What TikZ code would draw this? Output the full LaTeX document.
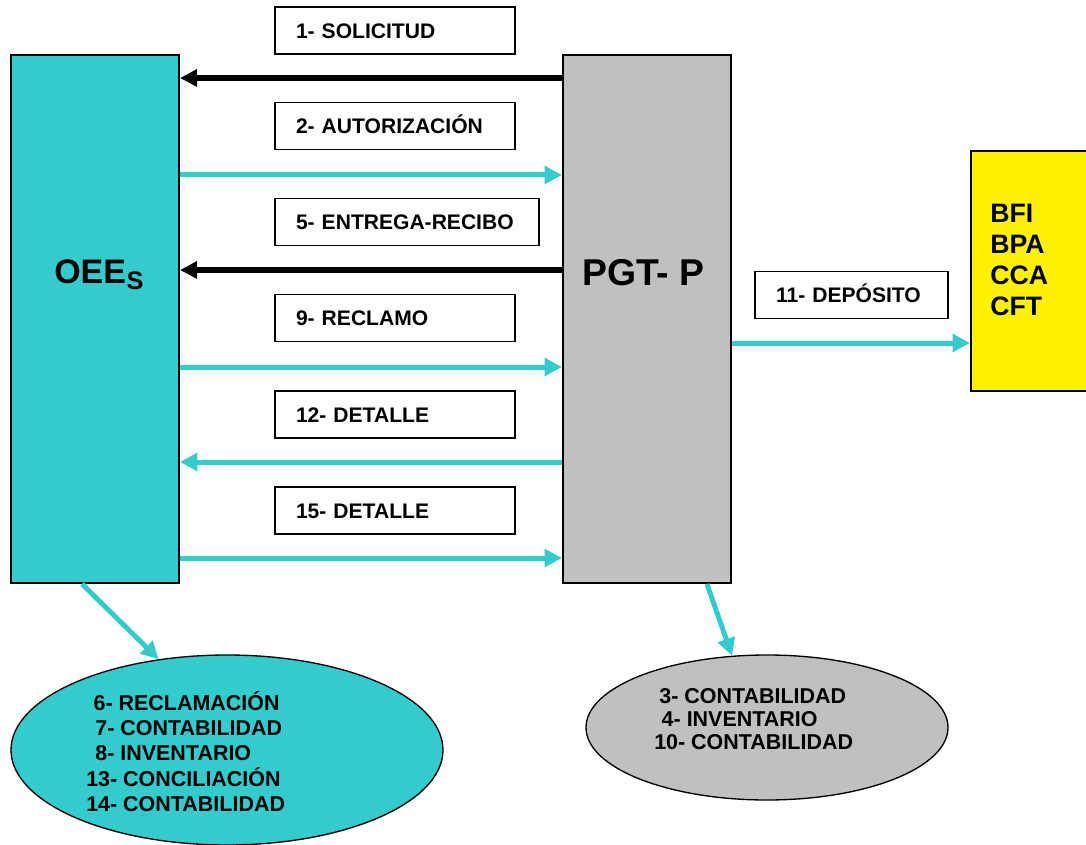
\documentclass[tikz,border=0pt]{standalone}
\usepackage{fontspec}
\setmainfont{Liberation Sans}
\usetikzlibrary{arrows.meta,shapes.geometric}
\definecolor{aqua}{RGB}{51,204,204}
\definecolor{silverfill}{RGB}{192,192,192}
\begin{document}
\begin{tikzpicture}[x=0.75pt,y=-0.75pt,
  font=\bfseries\fontsize{15.8}{18.75}\selectfont,
  bigbox/.style={draw=black, line width=1.5pt, inner sep=0pt,
    minimum width=126pt, minimum height=396pt},
  tag/.style={draw=black, line width=1.1pt, fill=white, inner ysep=0pt,
    inner xsep=15.75pt, minimum height=35.25pt, align=left,
    text height=11.3pt, text depth=0pt},
  oval/.style={ellipse, draw=black, line width=1pt, inner sep=0pt},
  plain/.style={anchor=base west, inner sep=0pt},
  flowc/.style={draw=aqua, line width=3.75pt,
    -{Triangle[length=13pt,width=13pt]}},
  flowk/.style={draw=black, line width=4.2pt,
    -{Triangle[length=12.75pt,width=12.5pt]}}]

\useasboundingbox (0,0) rectangle (1086,845);

% main blocks
\node[bigbox, fill=aqua] (oee) at (95,319) {};
\node[bigbox, fill=silverfill] (pgt) at (647,319) {};
\node[draw=black, line width=1.5pt, fill=yellow, inner sep=0pt,
  minimum width=96.75pt, minimum height=180pt] (yel) at (1035.5,271) {};

\node[plain, font=\bfseries\fontsize{25.5}{30}\selectfont] (oeeT) at (54,284)
  {OEE\kern0.5pt\raisebox{-4.5pt}{\fontsize{19}{22}\selectfont S}};
\node[plain, font=\bfseries\fontsize{28}{32}\selectfont] (pgtT) at (582,286) {PGT- P};
\node[plain, font=\bfseries\fontsize{20}{23.25}\selectfont] (yelT) at (990,223)
  {\begin{tabular}[t]{@{}l@{}}BFI\\ BPA\\ CCA\\ CFT\end{tabular}};

% message labels
\node[tag, text width=148.5pt] (m1) at (395,30.5) {1- SOLICITUD};
\node[tag, text width=148.5pt] (m2) at (395,126) {2- AUTORIZACIÓN};
\node[tag, text width=166.5pt] (m5) at (407,222) {5- ENTREGA-RECIBO};
\node[tag, text width=148.5pt] (m9) at (395,318) {9- RECLAMO};
\node[tag, text width=148.5pt] (m12) at (395,414.5) {12- DETALLE};
\node[tag, text width=148.5pt] (m15) at (395,510.5) {15- DETALLE};
\node[tag, text width=113.25pt] (m11) at (851.5,295) {11- DEPÓSITO};

% message flows
\draw[flowk] (pgt.west |- 0,78) -- (oee.east |- 0,78);
\draw[flowc] (oee.east |- 0,175) -- (pgt.west |- 0,175);
\draw[flowk] (pgt.west |- 0,270) -- (oee.east |- 0,270);
\draw[flowc] (oee.east |- 0,367) -- (pgt.west |- 0,367);
\draw[flowc] (pgt.west |- 0,462) -- (oee.east |- 0,462);
\draw[flowc] (oee.east |- 0,558) -- (pgt.west |- 0,558);
\draw[flowc] (pgt.east |- 0,343) -- (yel.west |- 0,343);

% internal processes
\node[oval, fill=aqua, minimum width=324pt, minimum height=142.5pt] (ellA) at (227,750) {};
\node[oval, fill=silverfill, minimum width=271.5pt, minimum height=108.75pt] (ellB) at (767,727.5) {};

\node[plain, font=\bfseries\fontsize{16.1}{18.75}\selectfont] (tA) at (86,710)
  {\begin{tabular}[t]{@{}l@{}}\hspace*{5.5pt}6- RECLAMACIÓN\\ \hspace*{6.8pt}7- CONTABILIDAD\\
   \hspace*{6.8pt}8- INVENTARIO\\ 13- CONCILIACIÓN\\ 14- CONTABILIDAD\end{tabular}};
\node[plain, font=\bfseries\fontsize{16.1}{17.6}\selectfont] (tB) at (654,703)
  {\begin{tabular}[t]{@{}l@{}}\hspace*{3.8pt}3- CONTABILIDAD\\ \hspace*{5.6pt}4- INVENTARIO\\
   10- CONTABILIDAD\end{tabular}};

\draw[flowc] (oee.south -| 82,0) -- (ellA.127);
\draw[flowc] (pgt.south -| 707,0) -- (ellB.116);
\end{tikzpicture}
\end{document}
